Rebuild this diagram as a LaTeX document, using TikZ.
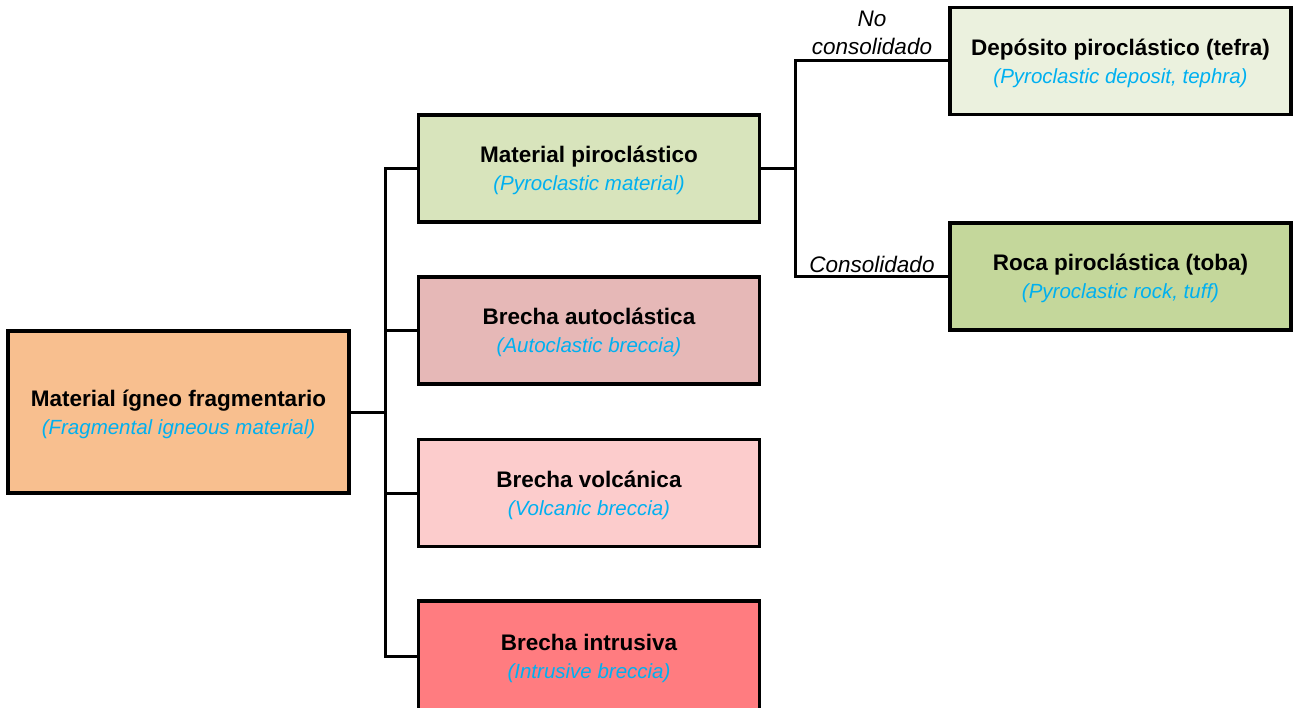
\documentclass[tikz,border=0pt]{standalone}
\usepackage{fontspec}
\setmainfont{Liberation Sans}
\definecolor{subblue}{HTML}{00B0F0}
\definecolor{cMain}{HTML}{F8BF8F}
\definecolor{cPiro}{HTML}{D8E4BC}
\definecolor{cAuto}{HTML}{E6B8B7}
\definecolor{cVolc}{HTML}{FCCCCC}
\definecolor{cIntr}{HTML}{FF7C80}
\definecolor{cTefra}{HTML}{EBF1DE}
\definecolor{cToba}{HTML}{C4D79B}
\tikzset{
  box/.style={draw=black, line width=3.2pt, rectangle, minimum width=341pt,
    minimum height=107pt, align=center, inner sep=0pt, text depth=0pt,
    font=\fontsize{22.5}{28}\selectfont},
  conn/.style={draw=black, line width=3pt},
  lbl/.style={align=center, font=\fontsize{22.5}{28}\selectfont\itshape}
}
\newcommand{\boxtext}[2]{{\bfseries #1}\\{\color{subblue}\fontsize{20.5}{28}\selectfont\itshape #2}}
\begin{document}
\begin{tikzpicture}[x=1pt,y=-1pt]
\useasboundingbox (0,0) rectangle (1293,708);
\node[box, fill=cMain, minimum height=162pt] (main) at (178.5,412) {\boxtext{Material ígneo fragmentario}{(Fragmental igneous material)}};
\node[box, fill=cPiro] (piro) at (589,168.5) {\boxtext{Material piroclástico}{(Pyroclastic material)}};
\node[box, fill=cAuto] (auto) at (589,330.5) {\boxtext{Brecha autoclástica}{(Autoclastic breccia)}};
\node[box, fill=cVolc] (volc) at (589,493) {\boxtext{Brecha volcánica}{(Volcanic breccia)}};
\node[box, fill=cIntr, minimum height=111pt] (intr) at (589,656.5) {\boxtext{Brecha intrusiva}{(Intrusive breccia)}};
\node[box, fill=cTefra] (tefra) at (1120.5,61) {\boxtext{Depósito piroclástico (tefra)}{(Pyroclastic deposit, tephra)}};
\node[box, fill=cToba] (toba) at (1120.5,276.5) {\boxtext{Roca piroclástica (toba)}{(Pyroclastic rock, tuff)}};
% trunk from the main box to the four classes
\coordinate (trunk) at (385,412);
\draw[conn] (main.east) -- (trunk);
\draw[conn] (trunk) |- (piro.west);
\draw[conn] (trunk) |- (auto.west);
\draw[conn] (trunk) |- (volc.west);
\draw[conn] (trunk) |- (intr.west);
% branch from pyroclastic material
\coordinate (fork) at (795,168.5);
\draw[conn] (piro.east) -- (fork);
\draw[conn] (fork) |- (tefra.west);
\draw[conn] (fork) |- (toba.west);
\node[lbl] (noc) at (872,33) {No\\consolidado};
\node[lbl] (con) at (872,264) {Consolidado};
\end{tikzpicture}
\end{document}
